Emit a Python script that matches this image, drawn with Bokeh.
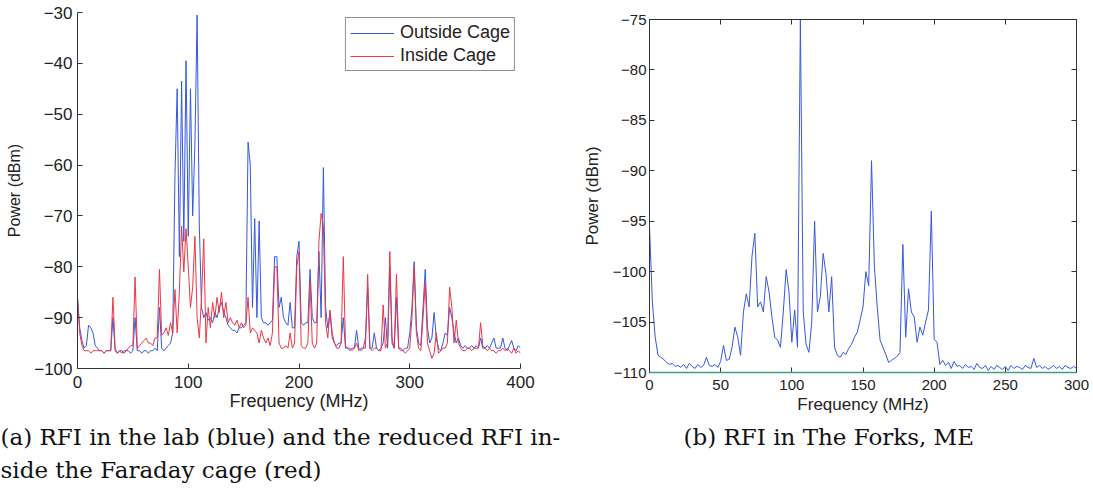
from bokeh.plotting import figure
from bokeh.models import Range1d, FixedTicker, LinearAxis, Title, Legend, LegendItem
from bokeh.layouts import row
from bokeh.embed import file_html
from bokeh.resources import INLINE

# ---------------- data ----------------
lab_freq = list(range(0, 401, 2))  # MHz
outside_cage = [
    -86, -92, -94.5, -96, -95.5, -91.5, -92, -93, -95.5, -96,
    -96.5, -96.5, -97, -96.5, -96.5, -96.5, -90, -96.5, -97, -96.5,
    -96.5, -97, -96.5, -96.5, -97, -96.5, -90, -96.5, -96.5, -97,
    -96.5, -96.5, -97, -96.5, -96.5, -96, -96.5, -88, -96, -96.5,
    -96, -95.5, -95, -93, -62, -45, -78, -43.5, -75, -39.5,
    -74, -45, -70, -56, -30.5, -72, -88, -90, -89, -90.5,
    -90, -91, -89, -90, -88, -87, -89, -90, -91.5, -92,
    -92.5, -92.5, -93, -92, -92, -91.5, -91, -55.5, -60, -88,
    -70.5, -90, -71, -90, -91, -91, -91.5, -91, -90.5, -78,
    -78, -88, -86, -90, -91, -91.5, -87, -92, -92, -78,
    -75, -91, -91.5, -91, -91, -80.5, -90, -91, -91, -77,
    -90, -60.5, -88, -92, -89, -94, -95, -95.5, -95, -95,
    -90, -96, -96, -96.5, -96, -96, -92.5, -96, -96.5, -96,
    -94, -84, -96, -96, -93, -96, -96.5, -96, -95, -90,
    -96, -80, -95, -96, -86, -96, -96, -96.5, -96, -96,
    -93, -88, -79, -92, -95, -95.5, -88, -80.5, -92, -95,
    -94, -89, -94, -96, -96.5, -95, -93, -93.5, -88, -90,
    -93, -95, -94, -95.5, -96, -95.5, -96, -96, -95.5, -96,
    -95.5, -96, -94, -96, -96, -95.5, -96, -95, -94, -96,
    -96, -96, -94, -96, -96.5, -95.5, -94.5, -96, -96.5, -95.5,
    -96,
]
inside_cage = [
    -86, -93, -95.5, -96.5, -96.5, -96.5, -97, -96.5, -96.5, -96.5,
    -96.5, -96.5, -97, -96.5, -96.5, -96.5, -86, -96, -97, -96.5,
    -97, -96.5, -96.5, -96, -95.5, -95.5, -82, -96, -95.5, -95,
    -94.5, -94, -95, -95, -95.5, -94, -94, -80.5, -93.5, -93,
    -92, -93.5, -91, -93, -84.5, -93, -85, -72, -81, -72.5,
    -80, -88, -84, -74, -90, -94, -86, -74.5, -95, -88,
    -92, -87, -90, -86, -89, -85, -90, -87, -91, -90,
    -91, -91.5, -90.5, -92, -91, -92, -91.5, -86, -93, -92,
    -92.5, -93, -95, -92.5, -94, -95, -94, -95.5, -93, -80,
    -80, -95, -96, -96, -95.5, -96, -93, -96, -95, -80,
    -77, -95.5, -96, -96, -95, -83, -95, -96, -95, -75,
    -69.5, -72, -91, -94, -88.5, -93, -95, -96, -96, -95,
    -78, -95.5, -96, -96, -96.5, -96, -95, -96.5, -96, -96,
    -96, -81.5, -96, -96.5, -96, -96, -96.5, -96.5, -87.5, -96,
    -95, -77, -94, -96, -81.5, -96, -96.5, -96.5, -97, -96.5,
    -96, -90, -80, -93, -96, -96.5, -90, -83, -95, -96.5,
    -98, -97, -93, -97, -96.5, -96, -96, -95, -84, -88,
    -95, -90.5, -95, -96, -96.5, -96.5, -96, -96, -96.5, -96,
    -96, -96, -91, -95.5, -96, -96.5, -96, -96.5, -96.5, -97,
    -96.5, -96.5, -96, -96.5, -96, -96.5, -97, -96, -97, -96.5,
    -97,
]

forks_freq = list(range(0, 301, 2))  # MHz
forks_power = [
    -95.5, -103, -106.5, -108.3, -108.5, -108.7, -109, -109.2, -109.1, -109.4,
    -109.3, -109.5, -109.2, -109.6, -109.1, -109.4, -109.6, -109.2, -109.5, -109.3,
    -108.5, -109.3, -109.4, -109.2, -109.5, -108.9, -107.3, -108.8, -108.7, -107.5,
    -105.5, -106.5, -108.3, -104, -102.2, -103.5, -98.5, -96.2, -103.5, -103,
    -104, -100.5, -102, -104.5, -106.5, -106.8, -107.5, -104, -99.8, -102,
    -107, -103.8, -107.5, -75, -104, -107.2, -108, -105, -95, -104,
    -102.5, -98.2, -100.2, -104, -100.5, -107.5, -108.3, -108.5, -108, -108.2,
    -107.6, -107.2, -106.5, -106, -104.8, -103.5, -100, -101.4, -89, -99.5,
    -103.5, -106.8, -107.5, -108.2, -109, -108.8, -108.6, -108.4, -108, -97.3,
    -106.5, -101.7, -104, -104.5, -107, -105.5, -106.3, -105, -103.8, -94,
    -106.7, -107, -109.2, -108.8, -109.3, -109, -109.6, -108.9, -109.4, -109.3,
    -109.6, -109.2, -109.5, -109.4, -109.7, -109.1, -109.5, -109.6, -109.3, -109.8,
    -109.4, -109.7, -109.3, -109.5, -109.7, -109.4, -109.8, -109.3, -109.6, -109.4,
    -109.5, -109.7, -109.3, -109.5, -109.6, -108.6, -109.5, -109.3, -109.6, -109.4,
    -109.7, -109.5, -109.3, -109.6, -109.4, -109.7, -109.3, -109.5, -109.6, -109.4,
    -109.6,
]
forks_floor_freq = [0, 300]
forks_floor = [-110, -110]

lab_xticks = [0, 100, 200, 300, 400]
lab_yticks = [-100, -90, -80, -70, -60, -50, -40, -30]
lab_ylabels = ["\u2212100", "\u221290", "\u221280", "\u221270", "\u221260", "\u221250", "\u221240", "\u221230"]
forks_xticks = [0, 50, 100, 150, 200, 250, 300]
forks_yticks = [-110, -105, -100, -95, -90, -85, -80, -75]
forks_ylabels = ["\u2212110", "\u2212105", "\u2212100", "\u221295", "\u221290", "\u221285", "\u221280", "\u221275"]

series_names = ["Outside Cage", "Inside Cage"]
caption_a1 = "(a) RFI in the lab (blue) and the reduced RFI in-"
caption_a2 = "side the Faraday cage (red)"
caption_b = "(b) RFI in The Forks, ME"

BLUE = "#3558e0"
RED = "#ee3644"
GREEN = "#3f9f80"
AX = "#333333"
SANS = "Liberation Sans"
SERIF = "DejaVu Serif"


def style_axis(ax, size, standoff, lab_size=None, lab_standoff=0):
    ax.axis_line_color = AX
    ax.axis_line_width = 1
    ax.major_tick_in = 5
    ax.major_tick_out = 0
    ax.minor_tick_in = 0
    ax.minor_tick_out = 0
    ax.major_tick_line_color = AX
    ax.major_label_text_font = SANS
    ax.major_label_text_font_size = size
    ax.major_label_text_color = "#222222"
    ax.major_label_standoff = standoff
    ax.axis_label_text_font = SANS
    ax.axis_label_text_font_style = "normal"
    ax.axis_label_text_color = "#222222"
    if lab_size:
        ax.axis_label_text_font_size = lab_size
    ax.axis_label_standoff = lab_standoff


def caption(text, offset, standoff):
    return Title(text=text, align="left", offset=offset, standoff=standoff,
                 text_font=SERIF, text_font_size="23px", text_font_style="normal",
                 text_color="#111111")


# ---------------- left plot ----------------
p1 = figure(width=570, height=495, x_range=Range1d(0, 400), y_range=Range1d(-100, -30),
            output_backend="svg", toolbar_location=None,
            min_border_left=77, min_border_right=50, min_border_top=12, min_border_bottom=127)
p1.frame_align = False
p1.grid.visible = False
p1.outline_line_color = None
p1.background_fill_color = "white"
p1.border_fill_color = "white"

r_out = p1.line(lab_freq, outside_cage, line_color=BLUE, line_width=1)
r_in = p1.line(lab_freq, inside_cage, line_color=RED, line_width=1)

p1.xaxis.ticker = FixedTicker(ticks=lab_xticks)
p1.yaxis.ticker = FixedTicker(ticks=lab_yticks)
p1.yaxis.major_label_overrides = dict(zip(lab_yticks, lab_ylabels))
p1.xaxis.axis_label = "Frequency (MHz)"
p1.yaxis.axis_label = "Power (dBm)"
style_axis(p1.xaxis[0], "17px", 7, "18px", 0)
style_axis(p1.yaxis[0], "17px", 5, "16px", 8)

legend = Legend(items=[LegendItem(label=series_names[0], renderers=[r_out]),
                       LegendItem(label=series_names[1], renderers=[r_in])],
                location="top_right", margin=5, padding=4, spacing=2,
                glyph_width=44, glyph_height=20, label_height=20, label_standoff=6,
                label_text_font=SANS, label_text_font_size="18px", label_text_color="#222222",
                label_text_baseline="middle",
                border_line_color="#222222", border_line_width=1,
                background_fill_color="white", background_fill_alpha=1.0)
p1.add_layout(legend)

p1.add_layout(caption(caption_a1, -77, 16), "below")
p1.add_layout(caption(caption_a2, -77, -6), "below")

# ---------------- right plot ----------------
p2 = figure(width=523, height=495, x_range=Range1d(0, 300), y_range=Range1d(-110, -75),
            output_backend="svg", toolbar_location=None,
            min_border_left=79, min_border_right=17, min_border_top=19, min_border_bottom=123)
p2.frame_align = False
p2.grid.visible = False
p2.outline_line_color = AX
p2.background_fill_color = "white"
p2.border_fill_color = "white"

p2.line(forks_freq, forks_power, line_color=BLUE, line_width=1)
p2.line(forks_floor_freq, forks_floor, line_color=GREEN, line_width=1.5, level="overlay")

p2.xaxis.ticker = FixedTicker(ticks=forks_xticks)
p2.yaxis.ticker = FixedTicker(ticks=forks_yticks)
p2.yaxis.major_label_overrides = dict(zip(forks_yticks, forks_ylabels))
p2.xaxis.axis_label = "Frequency (MHz)"
p2.yaxis.axis_label = "Power (dBm)"
style_axis(p2.xaxis[0], "15px", 7, "17px", 2)
style_axis(p2.yaxis[0], "15px", 3, "17px", 8)

top_ax = LinearAxis(ticker=FixedTicker(ticks=forks_xticks))
right_ax = LinearAxis(ticker=FixedTicker(ticks=forks_yticks))
for ax in (top_ax, right_ax):
    style_axis(ax, "0px", 0)
    ax.major_label_text_alpha = 0
p2.add_layout(top_ax, "above")
p2.add_layout(right_ax, "right")

p2.add_layout(caption(caption_b, 34, 11), "below")

layout = row(p1, p2)
open("out.html", "w").write(file_html(layout, INLINE))
